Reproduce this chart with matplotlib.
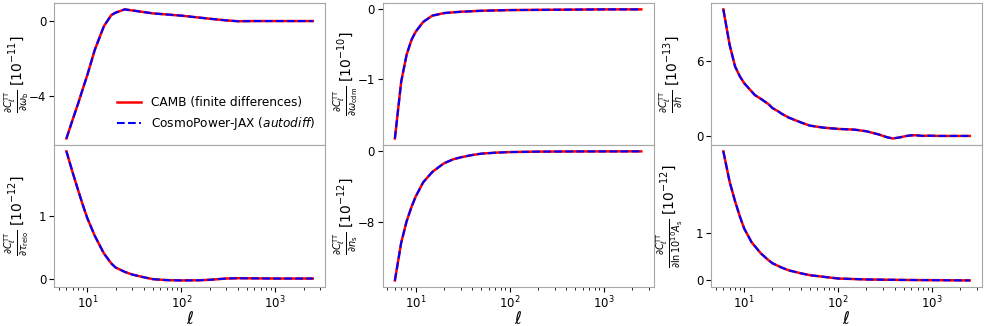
import numpy as np
import matplotlib
matplotlib.use("Agg")
import matplotlib.pyplot as plt

ell_lo = [6, 7, 8, 9, 10, 12, 15, 18, 20, 25, 30, 40, 50]

# d C_l / d omega_b  [1e-11]
ell_ob = ell_lo + [100, 200, 300, 400, 600, 1000, 2508]
d_ob = [-6.29, -5.27, -4.41, -3.6, -2.9, -1.55, -0.28, 0.32, 0.45, 0.625, 0.57, 0.48, 0.41,
        0.29, 0.125, 0.036, -0.01, 0.0, 0.0, 0.0]

# d C_l / d omega_cdm  [1e-10]
ell_ocdm = [6, 7, 8, 9, 10, 12, 15, 20, 30, 50, 100, 300, 1000, 2508]
d_ocdm = [-1.856, -1.04, -0.65, -0.44, -0.32, -0.18, -0.09, -0.053, -0.034, -0.02,
          -0.01, -0.005, 0.0, 0.0]

# d C_l / d h  [1e-13]
ell_h = [6, 7, 8, 9, 10, 12, 13, 15, 18, 20, 23, 25, 30, 40, 50, 70, 100, 150, 200, 270,
         330, 380, 450, 550, 650, 800, 900, 1200, 2508]
d_h = [10.08, 7.25, 5.53, 4.74, 4.2, 3.54, 3.25, 2.96, 2.55, 2.22, 1.96, 1.77, 1.45, 1.08,
       0.82, 0.66, 0.56, 0.5, 0.37, 0.12, -0.1, -0.2, -0.12, 0.02, 0.06, 0.0, 0.02, 0.0, 0.0]

# d C_l / d tau_reio  [1e-12]
ell_tau = ell_lo + [70, 100, 150, 200, 300, 400, 1000, 2508]
d_tau = [2.02, 1.68, 1.40, 1.16, 0.96, 0.68, 0.40, 0.24, 0.175, 0.106, 0.064, 0.02, -0.01,
         -0.025, -0.03, -0.028, -0.02, 0.0, 0.005, 0.0, 0.0]

# d C_l / d n_s  [1e-12]
ell_ns = ell_lo + [70, 100, 200, 500, 2508]
d_ns = [-14.6, -10.34, -7.9, -6.3, -5.1, -3.5, -2.33, -1.7, -1.35, -0.9, -0.68, -0.41, -0.26,
        -0.15, -0.08, -0.03, -0.01, 0.0]

# d C_l / d ln(10^10 A_s)  [1e-12]
ell_as = ell_lo + [100, 200, 500, 2508]
d_as = [2.71, 2.07, 1.66, 1.34, 1.09, 0.80, 0.57, 0.43, 0.36, 0.27, 0.21, 0.15, 0.11,
        0.04, 0.02, 0.01, 0.0]

panels = [
    (ell_ob, d_ob, r"$\frac{\partial C_\ell^{\rm TT}}{\partial \omega_{\rm b}}$ [$10^{-11}$]", [-4, 0]),
    (ell_ocdm, d_ocdm, r"$\frac{\partial C_\ell^{\rm TT}}{\partial \omega_{\rm cdm}}$ [$10^{-10}$]", [-1, 0]),
    (ell_h, d_h, r"$\frac{\partial C_\ell^{\rm TT}}{\partial h}$ [$10^{-13}$]", [0, 6]),
    (ell_tau, d_tau, r"$\frac{\partial C_\ell^{\rm TT}}{\partial \tau_{\rm reio}}$ [$10^{-12}$]", [0, 1]),
    (ell_ns, d_ns, r"$\frac{\partial C_\ell^{\rm TT}}{\partial n_{\rm s}}$ [$10^{-12}$]", [-8, 0]),
    (ell_as, d_as, r"$\frac{\partial C_\ell^{\rm TT}}{\partial \ln 10^{10} A_{\rm s}}$ [$10^{-12}$]", [0, 1]),
]
label_x = [-0.087, -0.085, -0.095]

fig, axes = plt.subplots(2, 3, figsize=(9.84, 3.26), dpi=100, sharex="col",
                         gridspec_kw=dict(left=0.055, right=0.998, top=0.991, bottom=0.12,
                                          wspace=0.212, hspace=0.0))

for i, (ax, (ell, d, lab, yt)) in enumerate(zip(axes.flat, panels)):
    ax.plot(ell, d, color="red", lw=1.8, label="CAMB (finite differences)")
    ax.plot(ell, d, color="blue", lw=1.5, ls="--", label=r"CosmoPower-JAX ($\it{autodiff}$)")
    ax.set_xscale("log")
    ax.set_yticks(yt)
    ax.set_ylabel(lab, fontsize=10)
    ax.yaxis.set_label_coords(label_x[i % 3], 0.5)
    ax.tick_params(labelsize=8.5, colors="black", pad=2)
    ax.tick_params(axis="x", which="both", top=False)
    for s in ax.spines.values():
        s.set_color("0.65")
    if i < 3:
        ax.tick_params(axis="x", which="both", bottom=False, labelbottom=False)
    else:
        ax.set_xlabel(r"$\ell$", fontsize=12, labelpad=-1)

axes[0, 0].legend(loc="lower right", frameon=False, fontsize=8.7, handlelength=2.0,
                  bbox_to_anchor=(1.004, 0.015))

fig.savefig("out.png", dpi=100)
